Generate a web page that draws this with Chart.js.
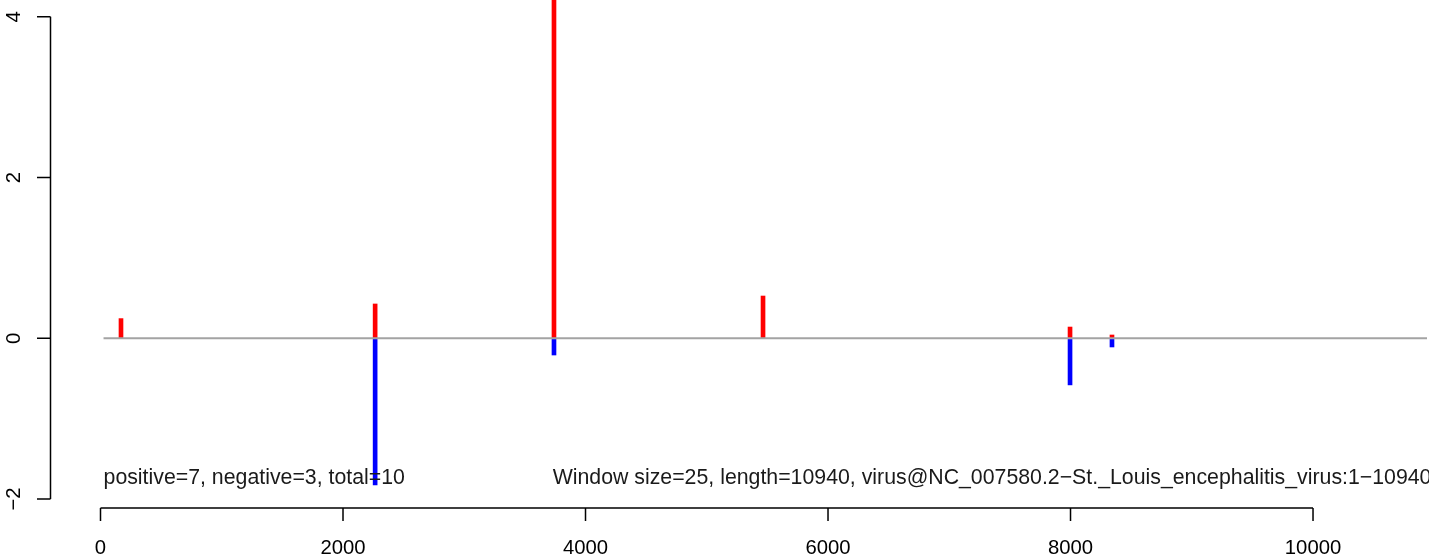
<!DOCTYPE html>
<html>
<head>
<meta charset="utf-8">
<script src="https://cdn.jsdelivr.net/npm/chart.js@4"></script>
<style>
  html, body { margin: 0; padding: 0; background: #ffffff; }
  #c { display: block; }
</style>
</head>
<body>
<canvas id="c" width="1429" height="556"></canvas>
<script>
// ---- data ----
const positivePositions = [169, 2265, 3740, 5464, 7996, 8342];
const positiveValues    = [0.245, 0.427, 5.48, 0.526, 0.14, 0.041];
const negativePositions = [2265, 3740, 7996, 8342];
const negativeValues    = [-1.826, -0.208, -0.58, -0.108];
const baselineX = [25, 10940];
const xTicks = [0, 2000, 4000, 6000, 8000, 10000];
const yTicks = [-2, 0, 2, 4];
const yTickLabels = ['\u22122', '0', '2', '4'];
const annotationTexts = [
  'positive=7, negative=3, total=10',
  'Window size=25, length=10940, virus@NC_007580.2\u2212St._Louis_encephalitis_virus:1\u221210940'
];
const annotationX = [25, 3729];
const annotationY = [-1.813, -1.813];

const FONT = '"Liberation Sans", Arial, Helvetica, sans-serif';

const axesPlugin = {
  id: 'rAxes',
  afterDraw(chart) {
    const ctx = chart.ctx;
    const xs = chart.scales.x, ys = chart.scales.y;
    const area = chart.chartArea;
    ctx.save();
    ctx.strokeStyle = '#000';
    ctx.fillStyle = '#000';
    ctx.lineWidth = 1.5;
    // x axis
    const xb = area.bottom;
    ctx.beginPath();
    ctx.moveTo(xs.getPixelForValue(xTicks[0]), xb);
    ctx.lineTo(xs.getPixelForValue(xTicks[xTicks.length - 1]), xb);
    xTicks.forEach(t => {
      const p = xs.getPixelForValue(t);
      ctx.moveTo(p, xb);
      ctx.lineTo(p, xb + 13);
    });
    ctx.stroke();
    ctx.font = '20.3px ' + FONT;
    ctx.textAlign = 'center';
    ctx.textBaseline = 'alphabetic';
    xTicks.forEach(t => {
      ctx.fillText(String(t), xs.getPixelForValue(t), 554);
    });
    // y axis
    const yl = area.left + 0.5;
    ctx.beginPath();
    ctx.moveTo(yl, ys.getPixelForValue(yTicks[0]));
    ctx.lineTo(yl, ys.getPixelForValue(yTicks[yTicks.length - 1]));
    yTicks.forEach(t => {
      const p = ys.getPixelForValue(t);
      ctx.moveTo(yl, p);
      ctx.lineTo(yl - 13.5, p);
    });
    ctx.stroke();
    yTicks.forEach((t, i) => {
      const p = ys.getPixelForValue(t);
      ctx.save();
      ctx.translate(20, p);
      ctx.rotate(-Math.PI / 2);
      ctx.textAlign = 'center';
      ctx.textBaseline = 'alphabetic';
      ctx.fillText(yTickLabels[i], 0, 0);
      ctx.restore();
    });
    // annotations
    ctx.font = '21.3px ' + FONT;
    ctx.textAlign = 'left';
    ctx.fillStyle = '#1a1a1a';
    annotationTexts.forEach((txt, i) => {
      ctx.fillText(txt, xs.getPixelForValue(annotationX[i]), ys.getPixelForValue(annotationY[i]));
    });
    ctx.restore();
  }
};

new Chart(document.getElementById('c'), {
  type: 'bar',
  data: {
    datasets: [
      {
        type: 'line',
        data: baselineX.map(x => ({ x: x, y: 0 })),
        borderColor: '#a3a3a3',
        borderWidth: 2,
        pointRadius: 0,
        fill: false,
        order: 0
      },
      {
        data: positivePositions.map((x, i) => ({ x: x, y: positiveValues[i] })),
        backgroundColor: '#ff0000',
        borderWidth: 0,
        barThickness: 4,
        grouped: false,
        order: 1
      },
      {
        data: negativePositions.map((x, i) => ({ x: x, y: negativeValues[i] })),
        backgroundColor: '#0000ff',
        borderWidth: 0,
        barThickness: 4,
        grouped: false,
        order: 1
      }
    ]
  },
  options: {
    responsive: false,
    animation: false,
    devicePixelRatio: 1,
    layout: { padding: { left: 50, right: 0, top: 0, bottom: 48 } },
    plugins: { legend: { display: false }, tooltip: { enabled: false }, title: { display: false } },
    scales: {
      x: { type: 'linear', min: -416.5, max: 10956.5, offset: false, display: false },
      y: { type: 'linear', min: -2.112, max: 4.21, display: false }
    }
  },
  plugins: [axesPlugin]
});
</script>
</body>
</html>
